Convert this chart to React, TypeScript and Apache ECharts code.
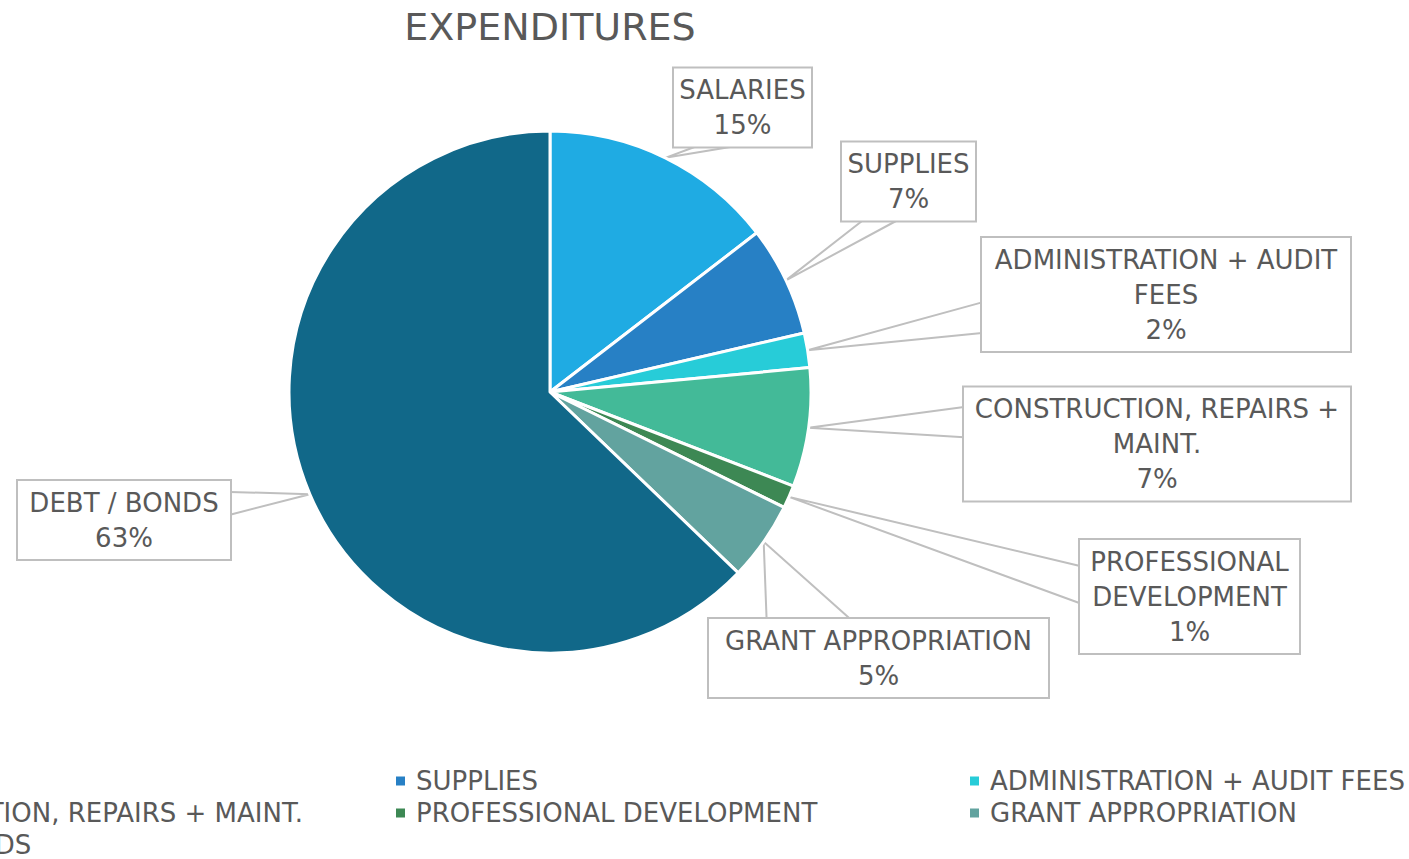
import React, { useEffect, useRef } from "react";
import * as echarts from "echarts";

// ---- data ----
const categories = [
  "SALARIES",
  "SUPPLIES",
  "ADMINISTRATION + AUDIT FEES",
  "CONSTRUCTION, REPAIRS + MAINT.",
  "PROFESSIONAL DEVELOPMENT",
  "GRANT APPROPRIATION",
  "DEBT / BONDS",
];
const shares = [14.56, 6.81, 2.14, 7.36, 1.42, 4.89, 62.82];
const calloutText = [
  "SALARIES",
  "SUPPLIES",
  "ADMINISTRATION + AUDIT\nFEES",
  "CONSTRUCTION, REPAIRS +\nMAINT.",
  "PROFESSIONAL\nDEVELOPMENT",
  "GRANT APPROPRIATION",
  "DEBT / BONDS",
];
const sliceColors = ["#1FABE3", "#2780C5", "#27CCD8", "#43BA98", "#3D8854", "#62A39F", "#116889"];

// ---- layout (callout boxes: left, top, width, height) ----
const calloutBoxes: number[][] = [
  [674, 68, 137, 79],
  [842, 143, 133, 77],
  [982, 238, 368, 113],
  [964, 388, 386, 112],
  [1080, 540, 219, 113],
  [709, 620, 339, 76],
  [18, 482, 212, 76],
];
const pointerBase: [string, number, number][] = [
  ["bottom", 0.15, 0.41],
  ["bottom", 0.16, 0.42],
  ["left", 0.57, 0.84],
  ["left", 0.17, 0.44],
  ["left", 0.23, 0.56],
  ["top", 0.17, 0.42],
  ["right", 0.13, 0.43],
];

const FONT = "'DejaVu Sans', 'Noto Sans', sans-serif";
const TEXT = "#595959";
const CENTER = [550, 392];
const RADIUS = 261;

export default function App() {
  const ref = useRef<HTMLDivElement>(null);
  useEffect(() => {
    if (!ref.current) return;
    const chart = echarts.init(ref.current, undefined, { renderer: "svg" });
    const total = shares.reduce((a, b) => a + b, 0);
    const data = categories.map((name, i) => ({
      name,
      value: shares[i],
      itemStyle: { color: sliceColors[i] },
      label: { width: calloutBoxes[i][2] - 20 },
    }));
    chart.setOption({
      animation: false,
      title: {
        text: "EXPENDITURES",
        left: 550,
        top: 5,
        padding: 0,
        textAlign: "center",
        textStyle: { color: TEXT, fontSize: 38, fontWeight: "normal", fontFamily: FONT, lineHeight: 44 },
      },
      legend: {
        data: categories,
        orient: "horizontal",
        left: -180,
        top: 768,
        width: 1760,
        padding: 0,
        itemGap: 6,
        itemWidth: 11,
        itemHeight: 11,
        icon: "rect",
        textStyle: {
          color: TEXT,
          fontSize: 26,
          fontFamily: FONT,
          width: 546,
          lineHeight: 26,
          padding: [0, 0, 0, 5],
          overflow: "truncate",
        },
      },
      series: [
        {
          type: "pie",
          center: CENTER,
          radius: RADIUS,
          startAngle: 90,
          clockwise: true,
          avoidLabelOverlap: false,
          itemStyle: { borderColor: "#ffffff", borderWidth: 3 },
          label: {
            show: true,
            position: "outside",
            formatter: (p: any) => `${calloutText[p.dataIndex]}\n${Math.round(p.percent)}%`,
            color: TEXT,
            fontSize: 26,
            fontFamily: FONT,
            lineHeight: 35,
            align: "center",
            backgroundColor: "#ffffff",
            borderColor: "#BFBFBF",
            borderWidth: 2,
            padding: [4, 10],
            overflow: "none",
          },
          labelLine: { show: true, lineStyle: { color: "#BFBFBF", width: 2 } },
          labelLayout: (p: any) => {
            const i = p.dataIndex;
            const [l, t, w, h] = calloutBoxes[i];
            let tip: number[];
            if (p.labelLinePoints && p.labelLinePoints[0]) {
              tip = p.labelLinePoints[0];
            } else {
              let before = 0;
              for (let k = 0; k < i; k++) before += shares[k];
              const ang = ((before + shares[i] / 2) / total) * Math.PI * 2;
              tip = [CENTER[0] + RADIUS * Math.sin(ang), CENTER[1] - RADIUS * Math.cos(ang)];
            }
            const [side, a, b] = pointerBase[i];
            let A: number[];
            let B: number[];
            if (side === "bottom") {
              A = [l + w * a, t + h];
              B = [l + w * b, t + h];
            } else if (side === "top") {
              A = [l + w * a, t];
              B = [l + w * b, t];
            } else if (side === "left") {
              A = [l, t + h * a];
              B = [l, t + h * b];
            } else {
              A = [l + w, t + h * a];
              B = [l + w, t + h * b];
            }
            return {
              x: l + w / 2,
              y: t + h / 2,
              align: "center",
              verticalAlign: "middle",
              labelLinePoints: [A, [tip[0], tip[1]], B],
            };
          },
          data,
        },
      ],
    });
    return () => chart.dispose();
  }, []);
  return (
    <div
      ref={ref}
      style={{ position: "fixed", left: 0, top: 0, width: 1409, height: 859, background: "#ffffff" }}
    />
  );
}
